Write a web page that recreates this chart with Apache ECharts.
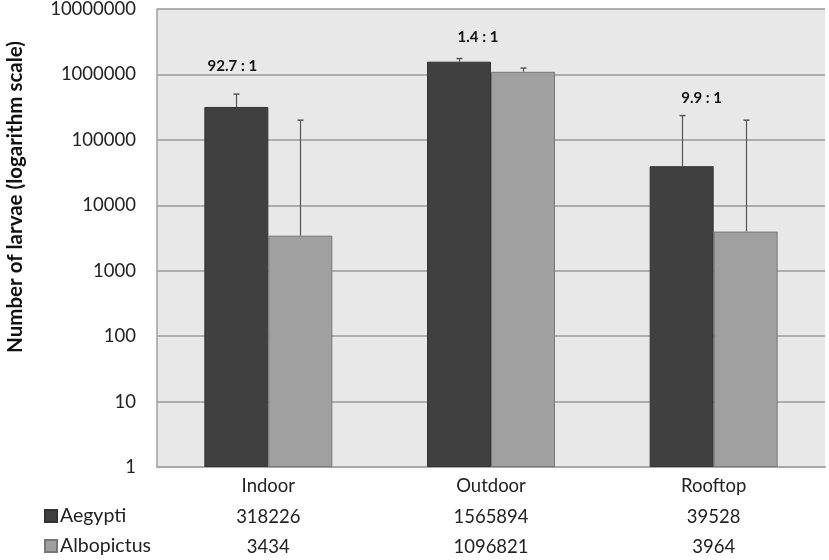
<!DOCTYPE html>
<html>
<head>
<meta charset="utf-8">
<script src="https://cdn.jsdelivr.net/npm/echarts@6/dist/echarts.min.js"></script>
<style>html,body{margin:0;padding:0;background:#fff;}#c{width:829px;height:560px;}</style>
</head>
<body>
<div id="c"></div>
<script>
var categories = ['Indoor', 'Outdoor', 'Rooftop'];
var seriesNames = ['Aegypti', 'Albopictus'];
var aegypti = [318226, 1565894, 39528];
var albopictus = [3434, 1096821, 3964];
var aegyptiErrTop = [500000, 1750000, 235000];
var albopictusErrTop = [200000, 1250000, 200000];
var ratios = ['92.7 : 1', '1.4 : 1', '9.9 : 1'];
var ratioAnchor = [1350000, 3700000, 430000];
var yTitle = 'Number of larvae (logarithm scale)';

var FONT = 'Lato, "Open Sans", sans-serif';
var BAR_W = 64;
var ratioDx = [-36, -13, -12];

var chart = echarts.init(document.getElementById('c'), null, {renderer: 'canvas'});

function errItem(errArr, valArr, offset) {
  return function (params, api) {
    var i = params.dataIndex;
    var base = api.coord([i, valArr[i]]);
    var top = api.coord([i, errArr[i]]);
    var x = Math.round(base[0] + offset) + 0.5;
    return {
      type: 'group',
      children: [
        {type: 'line', shape: {x1: x, y1: base[1], x2: x, y2: top[1]}, style: {stroke: '#555', lineWidth: 1.2}},
        {type: 'line', shape: {x1: x - 3, y1: top[1], x2: x + 3, y2: top[1]}, style: {stroke: '#555', lineWidth: 1.5}}
      ]
    };
  };
}

var option = {
  animation: false,
  backgroundColor: '#fff',
  grid: {left: 157, right: 4, top: 9, bottom: 93, show: true, backgroundColor: '#e8e8e8', borderWidth: 0,
         containLabel: false, outerBoundsMode: 'none'},
  legend: {
    data: seriesNames,
    orient: 'vertical',
    left: 44,
    top: 505,
    padding: 0,
    itemWidth: 12,
    itemHeight: 12,
    itemGap: 8,
    icon: 'rect',
    textStyle: {fontFamily: FONT, fontSize: 19.5, color: '#222', lineHeight: 22, padding: [0, 0, 0, -2]}
  },
  graphic: [{
    type: 'text', x: 15, y: 197, rotation: Math.PI / 2,
    style: {text: yTitle, align: 'center', verticalAlign: 'middle', fontFamily: FONT, fontSize: 20.5, fontWeight: 'bold', fill: '#111'}
  }],
  xAxis: {
    type: 'category',
    data: categories,
    axisLine: {show: true, lineStyle: {color: '#a8a8a8', width: 2}},
    axisTick: {show: false},
    axisLabel: {
      margin: 4,
      interval: 0,
      fontFamily: FONT,
      fontSize: 18.5,
      color: '#222',
      lineHeight: 30.5,
      formatter: function (v, i) {
        return v + '\n' + aegypti[i] + '\n' + albopictus[i];
      }
    }
  },
  yAxis: {
    type: 'log',
    logBase: 10,
    min: 1,
    max: 10000000,
    axisLine: {show: true, lineStyle: {color: '#a0a0a0', width: 1.5}},
    axisTick: {show: false},
    splitLine: {show: true, lineStyle: {color: '#9a9a9a', width: 1.5}},
    axisLabel: {
      fontFamily: FONT, fontSize: 18.5, color: '#222', margin: 21,
      formatter: function (v) { return String(Math.round(v)); }
    }
  },
  series: [
    {
      name: seriesNames[0], type: 'bar', data: aegypti, barWidth: BAR_W, barGap: '0%',
      itemStyle: {color: '#404040', borderColor: '#333', borderWidth: 1}
    },
    {
      name: seriesNames[1], type: 'bar', data: albopictus, barWidth: BAR_W, barGap: '0%',
      itemStyle: {color: '#a0a0a0', borderColor: '#777', borderWidth: 1}
    },
    {
      type: 'custom', data: aegyptiErrTop, renderItem: errItem(aegyptiErrTop, aegypti, -BAR_W / 2), z: 5, silent: true
    },
    {
      type: 'custom', data: albopictusErrTop, renderItem: errItem(albopictusErrTop, albopictus, BAR_W / 2), z: 5, silent: true
    },
    {
      type: 'custom', data: ratioAnchor, z: 6, silent: true,
      renderItem: function (params, api) {
        var i = params.dataIndex;
        var p = api.coord([i, ratioAnchor[i]]);
        return {
          type: 'text',
          style: {
            x: p[0] + ratioDx[i], y: p[1], text: ratios[i], align: 'center', verticalAlign: 'middle',
            fontFamily: FONT, fontSize: 15, fontWeight: 'bold', fill: '#111'
          }
        };
      }
    }
  ]
};
chart.setOption(option);
</script>
</body>
</html>
